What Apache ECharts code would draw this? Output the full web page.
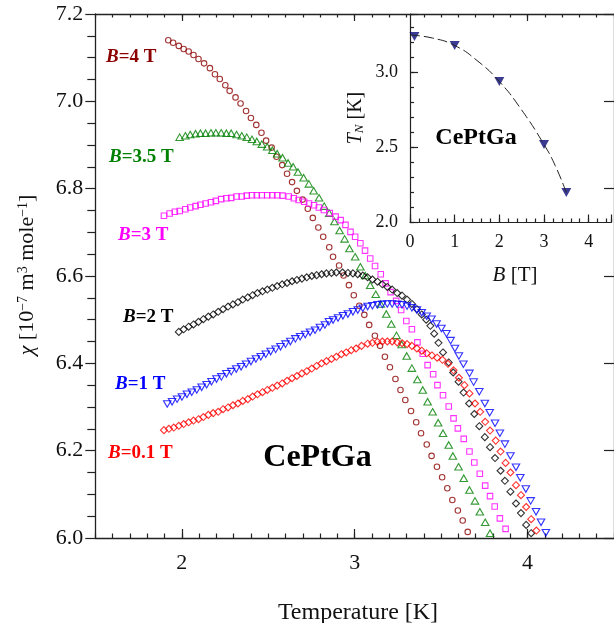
<!DOCTYPE html>
<html>
<head>
<meta charset="utf-8">
<script src="https://cdn.jsdelivr.net/npm/echarts@6/dist/echarts.min.js"></script>
<style>
  html, body { margin: 0; padding: 0; background: #fff; }
  #chart { width: 614px; height: 623px; }
</style>
</head>
<body>
<div id="chart"></div>
<script>
// Magnetic susceptibility chi(T) of CePtGa in several applied fields, [T (K), chi (1e-7 m3/mole)]
const chiB4 = [[1.922,7.140],[1.950,7.134],[1.983,7.127],[2.011,7.120],[2.040,7.114],[2.068,7.106],[2.097,7.097],[2.129,7.087],[2.163,7.076],[2.192,7.062],[2.220,7.051],[2.252,7.037],[2.277,7.024],[2.311,7.009],[2.340,6.995],[2.372,6.978],[2.400,6.962],[2.431,6.946],[2.461,6.928],[2.488,6.910],[2.520,6.894],[2.548,6.873],[2.581,6.854],[2.609,6.834],[2.638,6.815],[2.666,6.795],[2.699,6.775],[2.729,6.754],[2.758,6.733],[2.790,6.711],[2.818,6.690],[2.853,6.666],[2.875,6.644],[2.910,6.624],[2.936,6.601],[2.967,6.579],[2.995,6.556],[3.027,6.532],[3.056,6.511],[3.084,6.488],[3.117,6.463],[3.147,6.440],[3.175,6.415],[3.204,6.391],[3.236,6.364],[3.265,6.339],[3.293,6.316],[3.326,6.291],[3.356,6.265],[3.384,6.240],[3.417,6.214],[3.445,6.188],[3.476,6.163],[3.506,6.139],[3.536,6.114],[3.565,6.087],[3.597,6.063],[3.625,6.040],[3.654,6.014]];

const chiB35 = [[1.988,6.918],[2.021,6.921],[2.049,6.924],[2.080,6.926],[2.108,6.927],[2.138,6.927],[2.169,6.928],[2.197,6.928],[2.228,6.928],[2.258,6.927],[2.286,6.927],[2.317,6.924],[2.347,6.921],[2.376,6.918],[2.406,6.913],[2.434,6.908],[2.463,6.902],[2.494,6.896],[2.524,6.888],[2.552,6.880],[2.583,6.871],[2.615,6.859],[2.644,6.850],[2.672,6.838],[2.705,6.825],[2.735,6.811],[2.763,6.795],[2.794,6.779],[2.824,6.760],[2.853,6.744],[2.883,6.725],[2.913,6.704],[2.942,6.685],[2.970,6.663],[3.003,6.644],[3.033,6.621],[3.061,6.601],[3.090,6.579],[3.122,6.558],[3.151,6.536],[3.183,6.513],[3.212,6.490],[3.242,6.464],[3.272,6.443],[3.301,6.417],[3.331,6.389],[3.363,6.363],[3.394,6.339],[3.422,6.312],[3.451,6.289],[3.483,6.264],[3.511,6.240],[3.544,6.213],[3.568,6.188],[3.601,6.163],[3.631,6.137],[3.664,6.110],[3.696,6.085],[3.724,6.060],[3.755,6.036],[3.783,6.011]];

const chiB3 = [[1.897,6.738],[1.930,6.743],[1.960,6.747],[1.988,6.749],[2.021,6.753],[2.049,6.757],[2.080,6.760],[2.108,6.763],[2.138,6.766],[2.169,6.769],[2.197,6.772],[2.228,6.776],[2.258,6.778],[2.286,6.779],[2.317,6.782],[2.347,6.782],[2.376,6.784],[2.406,6.785],[2.434,6.785],[2.463,6.785],[2.494,6.785],[2.524,6.785],[2.552,6.785],[2.583,6.784],[2.619,6.782],[2.648,6.778],[2.676,6.774],[2.708,6.770],[2.736,6.766],[2.765,6.762],[2.793,6.757],[2.822,6.751],[2.856,6.744],[2.890,6.736],[2.919,6.728],[2.947,6.717],[2.976,6.701],[3.003,6.690],[3.033,6.675],[3.060,6.658],[3.090,6.640],[3.118,6.623],[3.151,6.604],[3.179,6.583],[3.208,6.563],[3.240,6.543],[3.269,6.522],[3.299,6.497],[3.331,6.478],[3.363,6.448],[3.394,6.422],[3.422,6.396],[3.454,6.375],[3.479,6.350],[3.511,6.327],[3.544,6.301],[3.572,6.274],[3.597,6.251],[3.631,6.227],[3.664,6.198],[3.692,6.173],[3.724,6.147],[3.755,6.120],[3.783,6.096],[3.810,6.072],[3.840,6.045],[3.873,6.021]];

const chiB2 = [[1.983,6.472],[2.011,6.478],[2.040,6.484],[2.068,6.489],[2.097,6.495],[2.125,6.501],[2.154,6.507],[2.182,6.512],[2.211,6.518],[2.239,6.524],[2.268,6.530],[2.296,6.535],[2.325,6.540],[2.353,6.546],[2.382,6.551],[2.410,6.556],[2.438,6.561],[2.467,6.565],[2.495,6.569],[2.524,6.573],[2.552,6.577],[2.581,6.581],[2.609,6.584],[2.638,6.588],[2.666,6.591],[2.695,6.594],[2.723,6.597],[2.752,6.600],[2.780,6.602],[2.809,6.604],[2.837,6.606],[2.866,6.607],[2.894,6.608],[2.930,6.608],[2.961,6.607],[2.990,6.606],[3.018,6.604],[3.047,6.601],[3.075,6.597],[3.103,6.592],[3.132,6.587],[3.160,6.581],[3.189,6.575],[3.217,6.569],[3.246,6.561],[3.274,6.555],[3.303,6.546],[3.331,6.536],[3.360,6.524],[3.388,6.512],[3.414,6.500],[3.438,6.486],[3.460,6.468],[3.485,6.447],[3.511,6.425],[3.544,6.402],[3.570,6.379],[3.601,6.358],[3.630,6.333],[3.662,6.308],[3.692,6.284],[3.721,6.256],[3.753,6.231],[3.783,6.208],[3.812,6.183],[3.844,6.154],[3.869,6.131],[3.901,6.106],[3.933,6.079],[3.962,6.057],[3.992,6.030],[4.021,6.011]];

const chiB1 = [[1.916,6.307],[1.944,6.312],[1.973,6.318],[2.001,6.323],[2.030,6.329],[2.058,6.334],[2.087,6.339],[2.115,6.345],[2.144,6.351],[2.172,6.358],[2.201,6.364],[2.229,6.369],[2.258,6.376],[2.286,6.381],[2.315,6.387],[2.343,6.392],[2.372,6.398],[2.400,6.404],[2.429,6.410],[2.457,6.415],[2.486,6.421],[2.514,6.427],[2.543,6.432],[2.571,6.438],[2.600,6.444],[2.628,6.450],[2.657,6.456],[2.685,6.461],[2.714,6.466],[2.742,6.471],[2.771,6.476],[2.799,6.482],[2.828,6.488],[2.851,6.495],[2.875,6.499],[2.904,6.504],[2.932,6.509],[2.961,6.513],[2.990,6.518],[3.018,6.522],[3.047,6.526],[3.075,6.530],[3.103,6.532],[3.132,6.534],[3.160,6.535],[3.189,6.536],[3.217,6.536],[3.246,6.535],[3.274,6.534],[3.303,6.531],[3.331,6.527],[3.360,6.522],[3.388,6.516],[3.417,6.508],[3.445,6.501],[3.474,6.490],[3.502,6.480],[3.531,6.468],[3.555,6.452],[3.580,6.434],[3.603,6.417],[3.629,6.398],[3.664,6.377],[3.688,6.357],[3.721,6.335],[3.753,6.308],[3.781,6.287],[3.812,6.263],[3.840,6.240],[3.869,6.215],[3.901,6.188],[3.933,6.162],[3.958,6.138],[3.990,6.112],[4.018,6.085],[4.049,6.060],[4.078,6.036],[4.106,6.012]];

const chiB01 = [[1.897,6.247],[1.926,6.250],[1.954,6.253],[1.983,6.257],[2.011,6.261],[2.040,6.265],[2.068,6.269],[2.097,6.272],[2.125,6.277],[2.154,6.282],[2.182,6.286],[2.211,6.289],[2.239,6.295],[2.268,6.299],[2.296,6.304],[2.325,6.308],[2.353,6.314],[2.382,6.318],[2.410,6.324],[2.438,6.329],[2.467,6.334],[2.495,6.339],[2.524,6.344],[2.552,6.349],[2.581,6.354],[2.609,6.360],[2.638,6.366],[2.666,6.371],[2.695,6.377],[2.723,6.382],[2.752,6.388],[2.780,6.394],[2.809,6.400],[2.837,6.405],[2.866,6.410],[2.894,6.415],[2.923,6.421],[2.951,6.425],[2.980,6.430],[3.008,6.434],[3.040,6.440],[3.075,6.445],[3.103,6.447],[3.132,6.449],[3.160,6.450],[3.189,6.450],[3.217,6.450],[3.246,6.448],[3.274,6.446],[3.303,6.444],[3.331,6.440],[3.360,6.434],[3.388,6.429],[3.417,6.423],[3.447,6.418],[3.477,6.413],[3.508,6.408],[3.540,6.399],[3.572,6.384],[3.603,6.367],[3.635,6.350],[3.664,6.331],[3.696,6.308],[3.726,6.289],[3.755,6.266],[3.783,6.246],[3.816,6.223],[3.844,6.198],[3.873,6.172],[3.901,6.150],[3.933,6.121],[3.962,6.098],[3.992,6.071],[4.021,6.043],[4.051,6.017]];

// Neel temperature versus field (inset), with the guide-to-the-eye curve
const fieldB = [0.1, 1, 2, 3, 3.5];
const neelT = [3.24, 3.18, 2.94, 2.52, 2.20];
const guideB = [0, 0.5, 1, 1.5, 2, 2.5, 3, 3.25, 3.5];
const guideT = [3.25, 3.23, 3.18, 3.08, 2.94, 2.75, 2.52, 2.38, 2.20];

// Tick labels
const tempTicks = [2, 3, 4];
const fieldTicks = [0, 1, 2, 3, 4];

const SERIF = '"Liberation Serif", "Times New Roman", "DejaVu Serif", serif';
const AX = '#222';

const chart = echarts.init(document.getElementById('chart'), null, { renderer: 'canvas' });

function openSeries(name, data, symbol, size, color, rotate) {
  return {
    type: 'scatter', name, data, xAxisIndex: 0, yAxisIndex: 0,
    symbol, symbolSize: size, symbolRotate: rotate || 0,
    itemStyle: { color: 'transparent', borderColor: color, borderWidth: 1.1 },
    silent: true, animation: false
  };
}

function fieldLabel(x, y, value, color) {
  const f = { fontSize: 19, fontFamily: SERIF, fontWeight: 'bold', fill: color };
  return {
    type: 'text', x, y, silent: true,
    style: {
      text: '{i|B}{n|=' + value + ' T}',
      textAlign: 'left', textVerticalAlign: 'middle',
      fontSize: 19, fontFamily: SERIF, fontWeight: 'bold', fill: color,
      rich: { i: Object.assign({ fontStyle: 'italic' }, f), n: Object.assign({ fontStyle: 'normal' }, f) }
    }
  };
}

const tickLine = { color: AX, width: 1.2 };

const option = {
  backgroundColor: '#fff',
  animation: false,
  grid: [
    { left: 95.3, top: 14, width: 526.5, height: 524, containLabel: false },
    { left: 410, top: 14, width: 213.75, height: 208.5, containLabel: false }
  ],
  xAxis: [
    { // main, bottom: major ticks and labels
      gridIndex: 0, type: 'value', min: 1.5, max: 4.5, position: 'bottom',
      axisLine: { show: true, onZero: false, lineStyle: { color: AX, width: 1.3 } },
      axisTick: { show: true, inside: true, length: 9, customValues: tempTicks, lineStyle: tickLine },
      axisLabel: { show: true, customValues: tempTicks, fontSize: 22, fontFamily: SERIF, color: '#111', margin: 14 },
      splitLine: { show: false }
    },
    { // main, bottom: minor ticks
      gridIndex: 0, type: 'value', min: 1.5, max: 4.5, interval: 0.1, position: 'bottom',
      axisLine: { show: false }, axisLabel: { show: false }, splitLine: { show: false },
      axisTick: { show: true, inside: true, length: 4.5, lineStyle: tickLine }
    },
    { // main, top: major ticks
      gridIndex: 0, type: 'value', min: 1.5, max: 4.5, position: 'top',
      axisLine: { show: true, onZero: false, lineStyle: { color: AX, width: 1.3 } },
      axisTick: { show: true, inside: true, length: 7, customValues: tempTicks, lineStyle: tickLine },
      axisLabel: { show: false }, splitLine: { show: false }
    },
    { // main, top: minor ticks
      gridIndex: 0, type: 'value', min: 1.5, max: 4.5, interval: 0.1, position: 'top',
      axisLine: { show: false }, axisLabel: { show: false }, splitLine: { show: false },
      axisTick: { show: true, inside: true, length: 3.5, lineStyle: tickLine }
    },
    { // inset, bottom
      gridIndex: 1, type: 'value', min: 0, max: 4.5, interval: 1, position: 'bottom',
      axisLine: { show: true, onZero: false, lineStyle: { color: AX, width: 1.2 } },
      axisTick: { show: true, inside: true, length: 8, lineStyle: tickLine },
      axisLabel: {
        show: true, fontSize: 18, fontFamily: SERIF, color: '#111', margin: 11,
        formatter: v => fieldTicks.includes(v) ? String(v) : ''
      },
      splitLine: { show: false }
    },
    { // inset, bottom minor
      gridIndex: 1, type: 'value', min: 0, max: 4.5, interval: 0.2, position: 'bottom',
      axisLine: { show: false }, axisLabel: { show: false }, splitLine: { show: false },
      axisTick: { show: true, inside: true, length: 4, lineStyle: tickLine }
    }
  ],
  yAxis: [
    { // main, left
      gridIndex: 0, type: 'value', min: 6.0, max: 7.2, interval: 0.2, position: 'left',
      axisLine: { show: true, onZero: false, lineStyle: { color: AX, width: 1.3 } },
      axisTick: { show: true, inside: false, length: 10, lineStyle: tickLine },
      minorTick: { show: true, splitNumber: 4, length: 8, lineStyle: tickLine },
      axisLabel: { show: true, fontSize: 22, fontFamily: SERIF, color: '#111', margin: 12, formatter: v => v.toFixed(1) },
      splitLine: { show: false }, minorSplitLine: { show: false }
    },
    { // main, right
      gridIndex: 0, type: 'value', min: 6.0, max: 7.2, interval: 0.2, position: 'right',
      axisLine: { show: true, onZero: false, lineStyle: { color: AX, width: 1.3 } },
      axisTick: { show: true, inside: true, length: 10, lineStyle: tickLine },
      axisLabel: { show: false }, splitLine: { show: false }
    },
    { // inset, left
      gridIndex: 1, type: 'value', min: 2.0, max: 3.39, interval: 0.5, position: 'left',
      axisLine: { show: true, onZero: false, lineStyle: { color: AX, width: 1.2 } },
      axisTick: { show: true, inside: true, length: 8, lineStyle: tickLine },
      axisLabel: {
        show: true, fontSize: 18, fontFamily: SERIF, color: '#111', margin: 12,
        formatter: v => Math.abs(v * 2 - Math.round(v * 2)) < 1e-6 ? v.toFixed(1) : ''
      },
      splitLine: { show: false }
    },
    { // inset, left minor
      gridIndex: 1, type: 'value', min: 2.0, max: 3.39, interval: 0.1, position: 'left',
      axisLine: { show: false }, axisLabel: { show: false }, splitLine: { show: false },
      axisTick: { show: true, inside: true, length: 4, lineStyle: tickLine }
    }
  ],
  series: [
    openSeries('B=4 T', chiB4, 'circle', 5.5, '#8b0000'),
    openSeries('B=3.5 T', chiB35, 'triangle', [7.5, 6.5], '#008000'),
    openSeries('B=3 T', chiB3, 'rect', 5.5, '#ff00ff'),
    openSeries('B=2 T', chiB2, 'diamond', [7, 7], '#000000'),
    openSeries('B=1 T', chiB1, 'triangle', [7.5, 6.5], '#0000ff', 180),
    openSeries('B=0.1 T', chiB01, 'diamond', [7, 7], '#ff0000'),
    {
      type: 'line', name: 'guide', xAxisIndex: 4, yAxisIndex: 2,
      data: guideB.map((b, i) => [b, guideT[i]]),
      smooth: true, showSymbol: false, symbol: 'none',
      lineStyle: { color: '#222', width: 1, type: [10, 4] },
      silent: true, animation: false
    },
    {
      type: 'scatter', name: 'TN', xAxisIndex: 4, yAxisIndex: 2,
      data: fieldB.map((b, i) => [b, neelT[i]]),
      symbol: 'triangle', symbolRotate: 180, symbolSize: [10, 9],
      itemStyle: { color: '#0a0a78' }, silent: true, animation: false
    }
  ],
  graphic: [
    { // y-axis title of the main panel
      type: 'text', x: 27, y: 275, rotation: Math.PI / 2, silent: true,
      style: {
        text: '{i|χ}{n| [10}{s|−7}{n| m}{s|3}{n| mole}{s|−1}{n|]}',
        textAlign: 'center', textVerticalAlign: 'middle',
        fontSize: 22, fontFamily: SERIF, fill: '#111',
        rich: {
          i: { fontSize: 22, fontFamily: SERIF, fontStyle: 'italic', fill: '#111' },
          n: { fontSize: 22, fontFamily: SERIF, fill: '#111' },
          s: { fontSize: 14, fontFamily: SERIF, fill: '#111', verticalAlign: 'top' }
        }
      }
    },
    { // x-axis title of the main panel
      type: 'text', x: 358, y: 613, silent: true,
      style: { text: 'Temperature [K]', textAlign: 'center', textVerticalAlign: 'middle', fontSize: 24, fontFamily: SERIF, fill: '#111' }
    },
    { // inset y title
      type: 'text', x: 356, y: 118, rotation: Math.PI / 2, silent: true,
      style: {
        text: '{i|T}{b|N}{n| [K]}',
        textAlign: 'center', textVerticalAlign: 'middle',
        fontSize: 20, fontFamily: SERIF, fill: '#111',
        rich: {
          i: { fontSize: 20, fontFamily: SERIF, fontStyle: 'italic', fill: '#111' },
          b: { fontSize: 13, fontFamily: SERIF, fontStyle: 'italic', fill: '#111', verticalAlign: 'bottom' },
          n: { fontSize: 20, fontFamily: SERIF, fill: '#111' }
        }
      }
    },
    { // inset x title
      type: 'text', x: 515, y: 275, silent: true,
      style: {
        text: '{i|B}{n| [T]}',
        textAlign: 'center', textVerticalAlign: 'middle',
        fontSize: 21, fontFamily: SERIF, fill: '#111',
        rich: {
          i: { fontSize: 21, fontFamily: SERIF, fontStyle: 'italic', fill: '#111' },
          n: { fontSize: 21, fontFamily: SERIF, fill: '#111' }
        }
      }
    },
    { // compound name, main panel
      type: 'text', x: 317.5, y: 458, silent: true,
      style: { text: 'CePtGa', textAlign: 'center', textVerticalAlign: 'middle', fontSize: 32, fontWeight: 'bold', fontFamily: SERIF, fill: '#000' }
    },
    { // compound name, inset
      type: 'text', x: 476, y: 138, silent: true,
      style: { text: 'CePtGa', textAlign: 'center', textVerticalAlign: 'middle', fontSize: 24, fontWeight: 'bold', fontFamily: SERIF, fill: '#000' }
    },
    fieldLabel(106, 57, '4', '#8b0000'),
    fieldLabel(109, 157, '3.5', '#008000'),
    fieldLabel(118, 235, '3', '#ff00ff'),
    fieldLabel(123, 317, '2', '#000000'),
    fieldLabel(115, 384, '1', '#0000ff'),
    fieldLabel(108, 453, '0.1', '#ff0000')
  ]
};

chart.setOption(option);
</script>
</body>
</html>
